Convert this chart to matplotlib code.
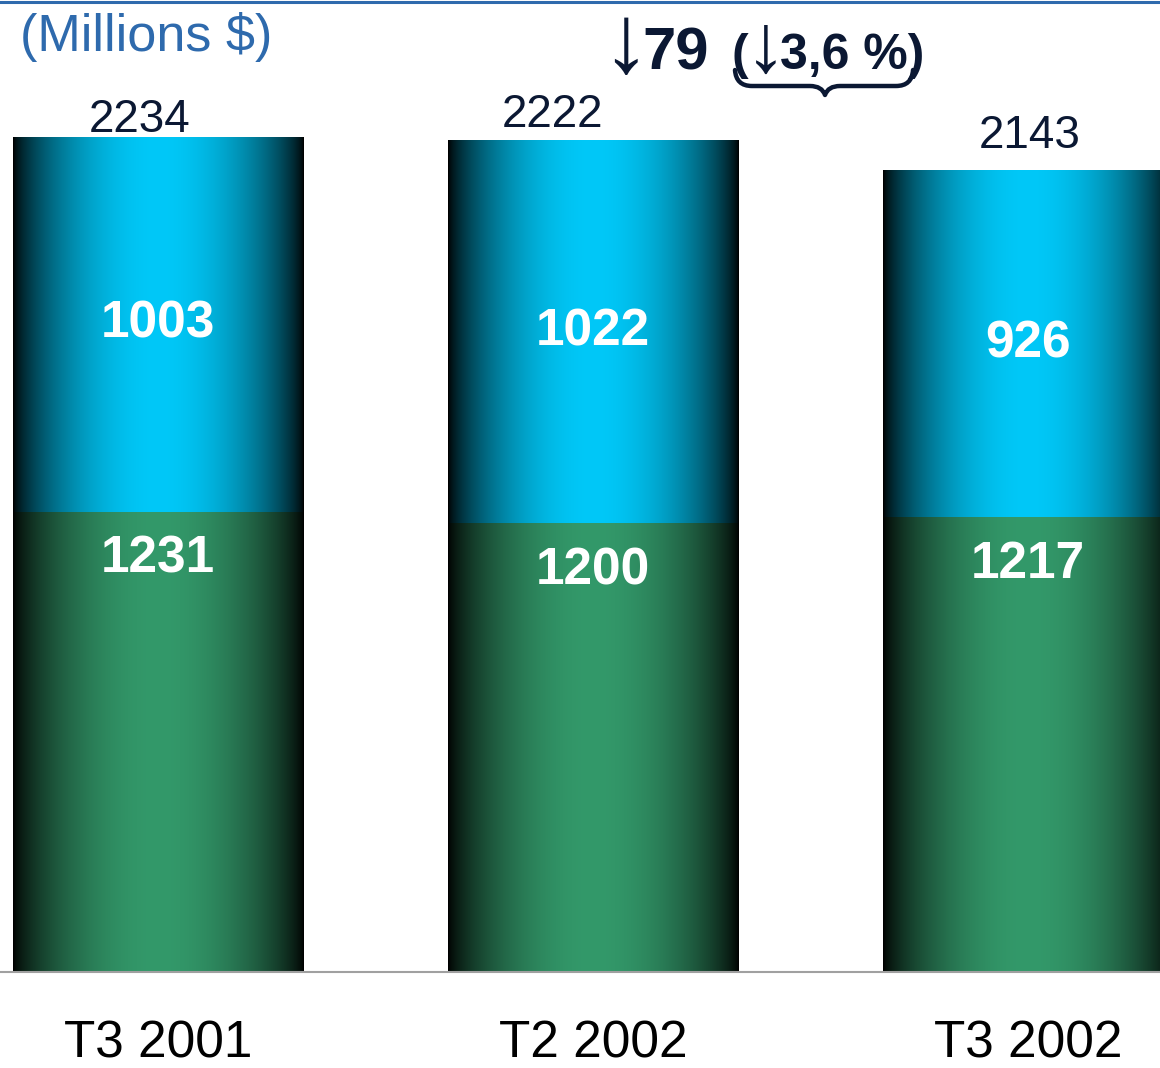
import numpy as np
import matplotlib
import matplotlib.pyplot as plt
from matplotlib.path import Path
from matplotlib.patches import PathPatch

matplotlib.use("Agg")
plt.rcParams["font.family"] = ["Liberation Sans", "DejaVu Sans"]

# data
quarters = ["T3 2001", "T2 2002", "T3 2002"]
bottom_vals = [1231, 1200, 1217]
top_vals = [1003, 1022, 926]
totals = [2234, 2222, 2143]
change_abs = "79"
change_pct = "3,6 %"

NAVY = "#0b1833"
W, H = 1160, 1068


def px(x, y):
    # pixel (from top-left) -> figure fraction
    return x / W, 1 - y / H


def gradient_bar(ax, x0, x1, y0, y1, color):
    t = np.linspace(0, 1, 300)
    f = np.sin(np.pi * t) ** 0.7
    rgb = np.array(matplotlib.colors.to_rgb(color))
    img = (f[:, None] * rgb[None, :])[None, :, :]
    ax.imshow(img, extent=[x0, x1, y0, y1], aspect="auto",
              interpolation="bilinear", zorder=2)


fig = plt.figure(figsize=(W / 100, H / 100), dpi=100)
ax = fig.add_axes([0, 96 / H, 1, 972 / H])

x = np.arange(len(quarters))
width = 0.667
for i in x:
    b, t = bottom_vals[i], top_vals[i]
    gradient_bar(ax, i - width / 2, i + width / 2, 0, b, "#33996a")
    gradient_bar(ax, i - width / 2, i + width / 2, b, b + t, "#00c8f8")
    ax.text(i, b + t / 2, str(t), ha="center", va="center", color="white",
            fontsize=37, fontweight="bold", zorder=3)
    ax.annotate(str(b), (i, b), xytext=(0, -34), textcoords="offset points",
                ha="center", va="center", color="white", fontsize=37,
                fontweight="bold", zorder=3)

# total labels above bars
label_dx = [-18, -41, 2]
label_dy = [5, 14, 23]
for i in x:
    ax.annotate(str(totals[i]), (i, totals[i]),
                xytext=(label_dx[i] * 0.72, label_dy[i] * 0.72),
                textcoords="offset points", ha="center", va="baseline",
                color=NAVY, fontsize=33, zorder=3)

ax.set_xlim(-0.363, 2.303)
ax.set_ylim(0, 2600)
ax.set_xticks(x)
ax.set_xticklabels(quarters, fontsize=37, color="black")
ax.tick_params(axis="x", length=0, pad=34)
ax.set_yticks([])
for s in ["top", "left", "right"]:
    ax.spines[s].set_visible(False)
ax.spines["bottom"].set_color("#a0a0a0")
ax.spines["bottom"].set_linewidth(1.5)

# top rule
fig.add_artist(plt.Line2D([0, 1], [1 - 1.5 / H, 1 - 1.5 / H],
                          color="#2e6aad", lw=2.2))

fig.text(*px(20, 51), "(Millions $)", color="#2e6aad", fontsize=37.5,
         ha="left", va="baseline")

# change annotation
fig.text(*px(601, 72), "\u2193", color=NAVY, fontsize=70,
         ha="left", va="baseline")
fig.text(*px(642, 69), change_abs, color=NAVY, fontsize=43,
         fontweight="bold", ha="left", va="baseline")
fig.text(*px(731, 69), "(", color=NAVY, fontsize=36,
         fontweight="bold", ha="left", va="baseline")
fig.text(*px(745, 72), "\u2193", color=NAVY, fontsize=60,
         ha="left", va="baseline")
fig.text(*px(780, 69), change_pct + ")", color=NAVY, fontsize=36,
         fontweight="bold", ha="left", va="baseline")

# brace under the percentage
verts = [px(735, 70), px(736, 86), px(752, 86),
         px(810, 86),
         px(822, 86), px(825, 95),
         px(828, 86), px(840, 86),
         px(896, 86),
         px(912, 86), px(913, 70)]
codes = [Path.MOVETO, Path.CURVE3, Path.CURVE3,
         Path.LINETO,
         Path.CURVE3, Path.CURVE3,
         Path.CURVE3, Path.CURVE3,
         Path.LINETO,
         Path.CURVE3, Path.CURVE3]
brace = PathPatch(Path(verts, codes), transform=fig.transFigure,
                  fill=False, edgecolor=NAVY, lw=3.2, capstyle="round",
                  joinstyle="round")
fig.add_artist(brace)

fig.savefig("out.png", dpi=100)
